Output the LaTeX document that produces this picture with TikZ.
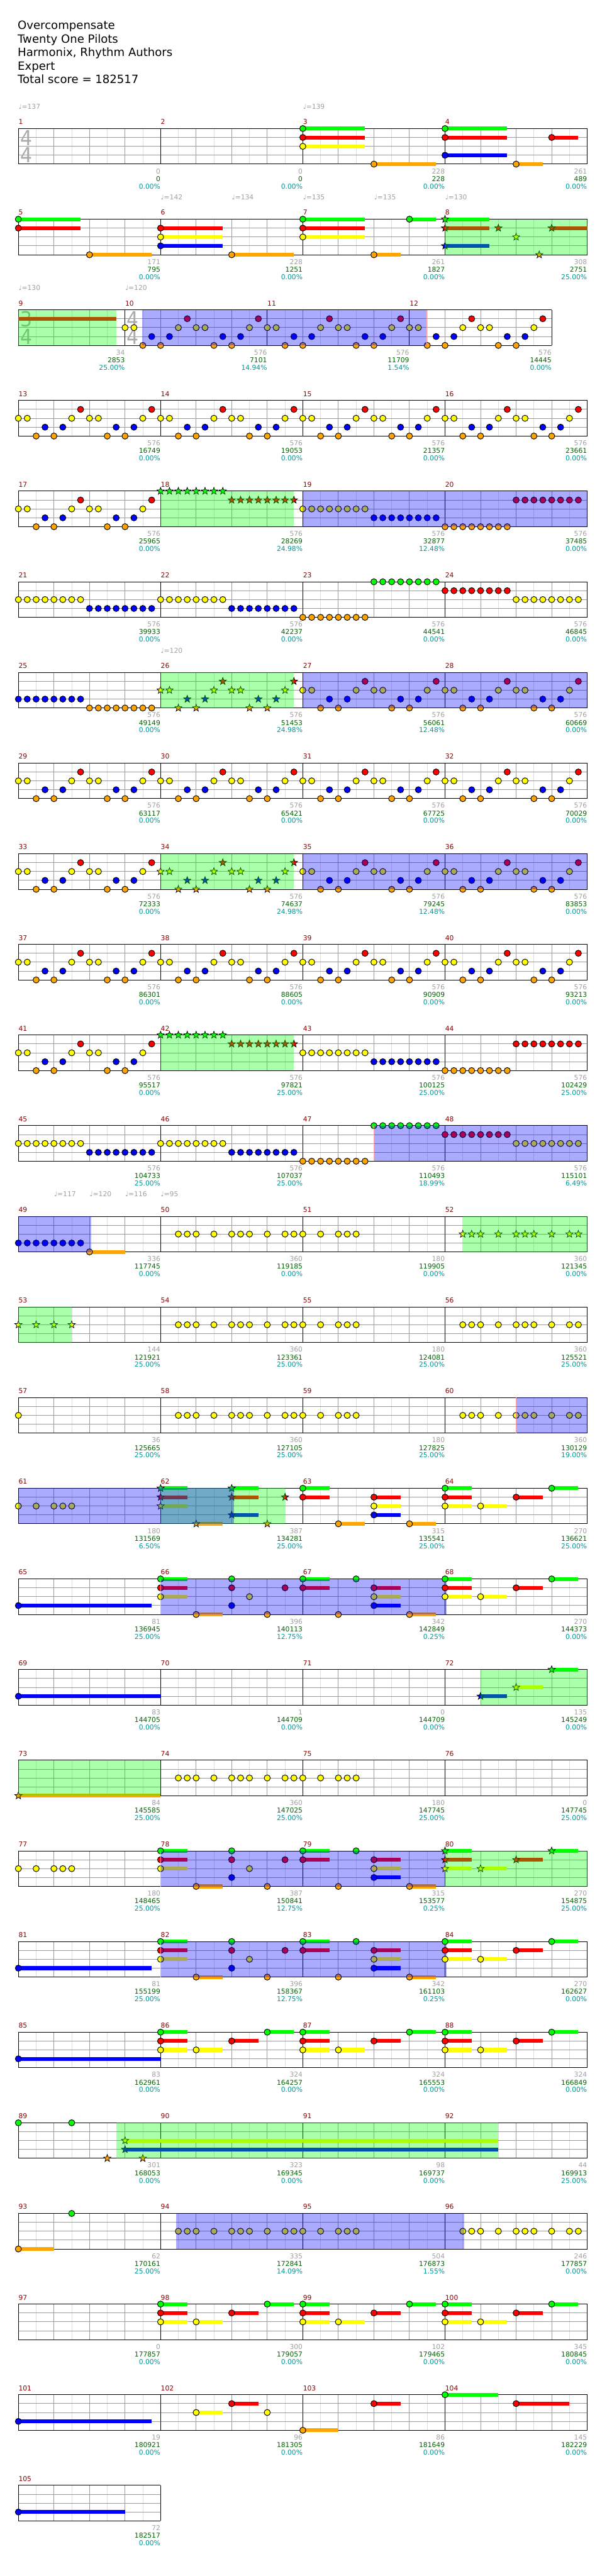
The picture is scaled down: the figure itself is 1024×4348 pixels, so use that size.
\documentclass[tikz,border=0pt]{standalone}
\usepackage{fontspec}
\setmainfont{DejaVu Sans}
\usetikzlibrary{shapes.geometric}
\definecolor{ln0}{RGB}{0,255,0}
\definecolor{ln1}{RGB}{255,0,0}
\definecolor{ln2}{RGB}{255,255,0}
\definecolor{ln3}{RGB}{0,0,255}
\definecolor{ln4}{RGB}{255,165,0}
\definecolor{gl}{RGB}{221,221,221}
\definecolor{gd}{RGB}{155,155,155}
\definecolor{mred}{RGB}{139,0,0}
\definecolor{lgray}{RGB}{160,160,160}
\definecolor{sgreen}{RGB}{0,100,0}
\definecolor{pcyan}{RGB}{0,150,150}
\definecolor{tsg}{RGB}{170,170,170}
\definecolor{pinkl}{RGB}{255,170,170}
\newcommand\smallf{\fontsize{5.7}{6.8}\selectfont}
\newcommand\titlef{\fontsize{9.6}{11.4}\selectfont}
\tikzset{
 hbeat/.style={draw=gl,line width=0.5pt},
 beatl/.style={draw=gd,line width=0.5pt},
 lanel/.style={draw=gd,line width=0.5pt},
 frame/.style={draw=black,line width=0.5pt},
 mnum/.style={anchor=base west,inner sep=0pt,text=mred,font=\smallf},
 lg/.style={anchor=base east,inner sep=0pt,text=lgray,font=\smallf},
 ls/.style={anchor=base east,inner sep=0pt,text=sgreen,font=\smallf},
 lp/.style={anchor=base east,inner sep=0pt,text=pcyan,font=\smallf},
 tmp/.style={anchor=base west,inner sep=0pt,text=lgray,font=\smallf},
 tsd/.style={inner sep=0pt,text=tsg,font=\fontsize{17.6}{18}\selectfont},
 notest/.style={draw=black,line width=0.5pt},
 starst/.style={star,star points=5,star point ratio=2.4,minimum size=6.4pt,inner sep=0pt,draw=black,line width=0.4pt},
 sust/.style={line width=3.2pt},
 ovgreen/.style={fill=ln0,fill opacity=0.333},
 ovblue/.style={fill=ln3,fill opacity=0.333},
 ttl/.style={anchor=base west,inner sep=0pt,font=\titlef}
}
\newcommand\meas[4]{%
 \pgfmathsetmacro\xe{#1+60*#3}%
 \foreach \k in {1,...,#3} {\draw[hbeat] ({#1+60*\k-30},#2) -- ++(0,60);}%
 \ifnum#3>1 \foreach \k in {2,...,#3} {\draw[beatl] ({#1+60*\k-60},#2) -- ++(0,60);}\fi
 \foreach \k in {15,30,45} {\draw[lanel] (#1,{#2+\k}) -- (\xe,{#2+\k});}%
 \draw[frame] (#1,#2) -- (\xe,#2) (#1,{#2+60}) -- (\xe,{#2+60}) (#1,#2) -- ++(0,60) (\xe,#2) -- ++(0,60);%
 \node[mnum] at (#1,{#2-7}) {#4};}
\newcommand\rowfour[2]{\meas{31}{#1}{4}{#2}\meas{271}{#1}{4}{\the\numexpr#2+1\relax}\meas{511}{#1}{4}{\the\numexpr#2+2\relax}\meas{751}{#1}{4}{\the\numexpr#2+3\relax}}
\newcommand\lab[5]{\node[lg] at (#1,{#2+76}) {#3};\node[ls] at (#1,{#2+89}) {#4};\node[lp] at (#1,{#2+101.5}) {#5};}
\newcommand\tempo[3]{\node[tmp] at (#1,{#2-33}) {♩=#3};}
\newcommand\tsig[4]{\node[tsd] at ({#1+13.5},{#2+16}) {\scalebox{0.9}[1]{#3}};\node[tsd] at ({#1+13.5},{#2+45}) {\scalebox{0.9}[1]{#4}};}
\newcommand\mknt[4]{\filldraw[notest,fill=ln#4] ({#1+15*(#2)},{#3+15*(#4)}) circle[radius=2.6pt];}
\newcommand\mkst[4]{\node[starst,fill=ln#4] at ({#1+15*(#2)},{#3+15*(#4)}) {};}
\newcommand\mksus[5]{\draw[sust,draw=ln#4] ({#1+15*(#2)},{#3+15*(#4)}) -- ++(#5,0);}
\newcommand\mksn[5]{\mksus{#1}{#2}{#3}{#4}{#5}\mknt{#1}{#2}{#3}{#4}}
\newcommand\mkss[5]{\mksus{#1}{#2}{#3}{#4}{#5}\mkst{#1}{#2}{#3}{#4}}
\newcommand\mknl[4]{\foreach \t in {#4} {\mknt{#1}{\t}{#2}{#3}}}
\newcommand\mksl[4]{\foreach \t in {#4} {\mkst{#1}{\t}{#2}{#3}}}
\newcommand\patA[2]{\foreach \l [count=\i from 0] in {2,2,4,3,4,3,2,1,2,2,4,3,4,3,2,1} {\mknt{#1}{\i}{#2}{\l}}}
\newcommand\patAs[2]{\foreach \l [count=\i from 0] in {2,2,4,3,4,3,2,1,2,2,4,3,4,3,2,1} {\mkst{#1}{\i}{#2}{\l}}}
\newcommand\halves[4]{\mknl{#1}{#2}{#3}{0,...,7}\mknl{#1}{#2}{#4}{8,...,15}}
\newcommand\ovg[3]{\fill[ovgreen] (#1,#3) rectangle (#2,{#3+60});}
\newcommand\ovb[3]{\fill[ovblue] (#1,#3) rectangle (#2,{#3+60});}
\newcommand\pinkline[2]{\draw[pinkl,line width=0.8pt] (#1,#2) -- (#1,{#2+60});}
\newcommand\chordB[2]{% G R Y at 0, Y at 4, R at 8, G at 12
 \mksn{#1}{0}{#2}{0}{45}\mksn{#1}{0}{#2}{1}{45}\mksn{#1}{0}{#2}{2}{45}\mksn{#1}{4}{#2}{2}{45}\mksn{#1}{8}{#2}{1}{45}\mksn{#1}{12}{#2}{0}{45}}
\newcommand\chordBs[2]{%
 \mkss{#1}{0}{#2}{0}{45}\mkss{#1}{0}{#2}{1}{45}\mkss{#1}{0}{#2}{2}{45}\mkss{#1}{4}{#2}{2}{45}\mkss{#1}{8}{#2}{1}{45}\mkss{#1}{12}{#2}{0}{45}}
\newcommand\chordA[2]{%
 \mksn{#1}{0}{#2}{0}{45}\mksn{#1}{0}{#2}{1}{45}\mksn{#1}{0}{#2}{2}{45}\mksn{#1}{4}{#2}{4}{45}
 \mknt{#1}{8}{#2}{0}\mknt{#1}{8}{#2}{1}\mknt{#1}{8}{#2}{3}\mknt{#1}{10}{#2}{2}\mknt{#1}{12}{#2}{4}\mknt{#1}{14}{#2}{1}}
\newcommand\chordC[2]{%
 \mksn{#1}{0}{#2}{0}{45}\mksn{#1}{0}{#2}{1}{45}\mknt{#1}{4}{#2}{4}\mknt{#1}{6}{#2}{0}
 \mksn{#1}{8}{#2}{1}{45}\mksn{#1}{8}{#2}{2}{45}\mksn{#1}{8}{#2}{3}{45}\mksn{#1}{12}{#2}{4}{45}}
\newcommand\yA[2]{\mknl{#1}{#2}{2}{2,3,4,6,8,9,10,12,14,15}}
\newcommand\yB[2]{\mknl{#1}{#2}{2}{0,2,4,5,6}}
\begin{document}
\begin{tikzpicture}[x=0.5pt,y=-0.5pt]
\fill[white] (0,0) rectangle (1024,4348);
\useasboundingbox (0,0) rectangle (1024,4348);
% header
\node[ttl] at (29.5,49.3) {Overcompensate};
\node[ttl] at (29.5,72.2) {Twenty One Pilots};
\node[ttl] at (29.5,95) {Harmonix, Rhythm Authors};
\node[ttl] at (29.5,117.9) {Expert};
\node[ttl] at (29.5,140.7) {Total score = 182517};
% ---------- grids ----------
\foreach \r in {0,1,3,4,...,25} {\pgfmathtruncatemacro\yy{217+153*\r}\pgfmathtruncatemacro\nn{4*\r+1}\rowfour{\yy}{\nn}}
\meas{31}{523}{3}{9}\meas{211}{523}{4}{10}\meas{451}{523}{4}{11}\meas{691}{523}{4}{12}
\meas{31}{4195}{4}{105}
\tsig{31}{217}{4}{4}
\tsig{31}{523}{3}{4}\tsig{211}{523}{4}{4}
% ---------- row 1 ----------
\tempo{31}{217}{137}\tempo{511}{217}{139}
\mksn{511}{0}{217}{0}{105}\mksn{511}{0}{217}{1}{105}\mksn{511}{0}{217}{2}{105}\mksn{511}{8}{217}{4}{105}
\mksn{751}{0}{217}{0}{105}\mksn{751}{0}{217}{1}{105}\mksn{751}{0}{217}{3}{105}\mksn{751}{8}{217}{4}{45}\mksn{751}{12}{217}{1}{45}
\lab{271}{217}{0}{0}{0.00\%}\lab{511}{217}{0}{0}{0.00\%}\lab{751}{217}{228}{228}{0.00\%}\lab{991}{217}{261}{489}{0.00\%}
% ---------- row 2 ----------
\tempo{271}{370}{142}\tempo{391}{370}{134}\tempo{511}{370}{135}\tempo{631}{370}{135}\tempo{751}{370}{130}
\mksn{31}{0}{370}{0}{105}\mksn{31}{0}{370}{1}{105}\mksn{31}{8}{370}{4}{105}
\mksn{271}{0}{370}{1}{105}\mksn{271}{0}{370}{2}{105}\mksn{271}{0}{370}{3}{105}\mksn{271}{8}{370}{4}{105}
\mksn{511}{0}{370}{0}{105}\mksn{511}{0}{370}{1}{105}\mksn{511}{0}{370}{2}{105}\mksn{511}{8}{370}{4}{45}\mksn{511}{12}{370}{0}{45}
\mkss{751}{0}{370}{0}{75}\mkss{751}{0}{370}{1}{75}\mkss{751}{0}{370}{3}{75}\mkst{751}{6}{370}{1}\mkst{751}{8}{370}{2}\mkst{751}{10.6}{370}{4}\mkss{751}{12}{370}{1}{60}
\ovg{751}{991}{370}
\lab{271}{370}{171}{795}{0.00\%}\lab{511}{370}{228}{1251}{0.00\%}\lab{751}{370}{261}{1827}{0.00\%}\lab{991}{370}{308}{2751}{25.00\%}
% ---------- row 3 ----------
\tempo{31}{523}{130}\tempo{211}{523}{120}
\mksus{31}{0}{523}{1}{165}
\ovg{31}{196}{523}
\patA{211}{523}\patA{451}{523}\patA{691}{523}
\ovb{240}{720}{523}\pinkline{720}{523}
\lab{211}{523}{34}{2853}{25.00\%}\lab{451}{523}{576}{7101}{14.94\%}\lab{691}{523}{576}{11709}{1.54\%}\lab{931}{523}{576}{14445}{0.00\%}
% ---------- row 4 ----------
\patA{31}{676}\patA{271}{676}\patA{511}{676}\patA{751}{676}
\lab{271}{676}{576}{16749}{0.00\%}\lab{511}{676}{576}{19053}{0.00\%}\lab{751}{676}{576}{21357}{0.00\%}\lab{991}{676}{576}{23661}{0.00\%}
% ---------- row 5 ----------
\patA{31}{829}
\mksl{271}{829}{0}{0,...,7}\mksl{271}{829}{1}{8,...,15}
\ovg{271}{496}{829}
\halves{511}{829}{2}{3}\halves{751}{829}{4}{1}
\ovb{511}{991}{829}
\lab{271}{829}{576}{25965}{0.00\%}\lab{511}{829}{576}{28269}{24.98\%}\lab{751}{829}{576}{32877}{12.48\%}\lab{991}{829}{576}{37485}{0.00\%}
% ---------- row 6 ----------
\halves{31}{982}{2}{3}\halves{271}{982}{2}{3}\halves{511}{982}{4}{0}\halves{751}{982}{1}{2}
\lab{271}{982}{576}{39933}{0.00\%}\lab{511}{982}{576}{42237}{0.00\%}\lab{751}{982}{576}{44541}{0.00\%}\lab{991}{982}{576}{46845}{0.00\%}
% ---------- row 7 ----------
\tempo{271}{1135}{120}
\halves{31}{1135}{3}{4}
\patAs{271}{1135}\ovg{271}{496}{1135}
\patA{511}{1135}\patA{751}{1135}\ovb{511}{991}{1135}
\lab{271}{1135}{576}{49149}{0.00\%}\lab{511}{1135}{576}{51453}{24.98\%}\lab{751}{1135}{576}{56061}{12.48\%}\lab{991}{1135}{576}{60669}{0.00\%}
% ---------- row 8 ----------
\patA{31}{1288}\patA{271}{1288}\patA{511}{1288}\patA{751}{1288}
\lab{271}{1288}{576}{63117}{0.00\%}\lab{511}{1288}{576}{65421}{0.00\%}\lab{751}{1288}{576}{67725}{0.00\%}\lab{991}{1288}{576}{70029}{0.00\%}
% ---------- row 9 ----------
\patA{31}{1441}
\patAs{271}{1441}\ovg{271}{496}{1441}
\patA{511}{1441}\patA{751}{1441}\ovb{511}{991}{1441}
\lab{271}{1441}{576}{72333}{0.00\%}\lab{511}{1441}{576}{74637}{24.98\%}\lab{751}{1441}{576}{79245}{12.48\%}\lab{991}{1441}{576}{83853}{0.00\%}
% ---------- row 10 ----------
\patA{31}{1594}\patA{271}{1594}\patA{511}{1594}\patA{751}{1594}
\lab{271}{1594}{576}{86301}{0.00\%}\lab{511}{1594}{576}{88605}{0.00\%}\lab{751}{1594}{576}{90909}{0.00\%}\lab{991}{1594}{576}{93213}{0.00\%}
% ---------- row 11 ----------
\patA{31}{1747}
\mksl{271}{1747}{0}{0,...,7}\mksl{271}{1747}{1}{8,...,15}\ovg{271}{496}{1747}
\halves{511}{1747}{2}{3}\halves{751}{1747}{4}{1}
\lab{271}{1747}{576}{95517}{0.00\%}\lab{511}{1747}{576}{97821}{25.00\%}\lab{751}{1747}{576}{100125}{25.00\%}\lab{991}{1747}{576}{102429}{25.00\%}
% ---------- row 12 ----------
\halves{31}{1900}{2}{3}\halves{271}{1900}{2}{3}\halves{511}{1900}{4}{0}\halves{751}{1900}{1}{2}
\ovb{631}{991}{1900}\pinkline{631}{1900}
\lab{271}{1900}{576}{104733}{25.00\%}\lab{511}{1900}{576}{107037}{25.00\%}\lab{751}{1900}{576}{110493}{18.99\%}\lab{991}{1900}{576}{115101}{6.49\%}
% ---------- row 13 ----------
\tempo{91}{2053}{117}\tempo{151}{2053}{120}\tempo{211}{2053}{116}\tempo{271}{2053}{95}
\mknl{31}{2053}{3}{0,...,7}\mksn{31}{8}{2053}{4}{60}
\ovb{31}{154}{2053}
\yA{271}{2053}\yB{511}{2053}
\mksl{751}{2053}{2}{2,3,4,6,8,9,10,12,14,15}\ovg{781}{991}{2053}
\lab{271}{2053}{336}{117745}{0.00\%}\lab{511}{2053}{360}{119185}{0.00\%}\lab{751}{2053}{180}{119905}{0.00\%}\lab{991}{2053}{360}{121345}{0.00\%}
% ---------- row 14 ----------
\mksl{31}{2206}{2}{0,2,4,6}\ovg{31}{121}{2206}
\yA{271}{2206}\yB{511}{2206}\yA{751}{2206}
\lab{271}{2206}{144}{121921}{25.00\%}\lab{511}{2206}{360}{123361}{25.00\%}\lab{751}{2206}{180}{124081}{25.00\%}\lab{991}{2206}{360}{125521}{25.00\%}
% ---------- row 15 ----------
\mknt{31}{0}{2359}{2}
\yA{271}{2359}\yB{511}{2359}\yA{751}{2359}
\ovb{872}{991}{2359}\pinkline{871}{2359}
\lab{271}{2359}{36}{125665}{25.00\%}\lab{511}{2359}{360}{127105}{25.00\%}\lab{751}{2359}{180}{127825}{25.00\%}\lab{991}{2359}{360}{130129}{19.00\%}
% ---------- row 16 ----------
\yB{31}{2512}
\mkss{271}{0}{2512}{0}{45}\mkss{271}{0}{2512}{1}{45}\mkss{271}{0}{2512}{2}{45}\mkss{271}{4}{2512}{4}{45}
\mkss{271}{8}{2512}{0}{45}\mkss{271}{8}{2512}{1}{45}\mkss{271}{8}{2512}{3}{45}\mkst{271}{12}{2512}{4}\mkst{271}{14}{2512}{1}
\ovg{271}{481}{2512}\ovb{31}{395}{2512}
\mksn{511}{0}{2512}{0}{45}\mksn{511}{0}{2512}{1}{45}\mksn{511}{4}{2512}{4}{45}\mksn{511}{8}{2512}{1}{45}\mksn{511}{8}{2512}{2}{45}\mksn{511}{8}{2512}{3}{45}\mksn{511}{12}{2512}{4}{45}
\chordB{751}{2512}
\lab{271}{2512}{180}{131569}{6.50\%}\lab{511}{2512}{387}{134281}{25.00\%}\lab{751}{2512}{315}{135541}{25.00\%}\lab{991}{2512}{270}{136621}{25.00\%}
% ---------- row 17 ----------
\mksn{31}{0}{2665}{3}{225}
\chordA{271}{2665}\chordC{511}{2665}
\ovb{271}{754}{2665}\pinkline{271}{2665}
\chordB{751}{2665}
\lab{271}{2665}{81}{136945}{25.00\%}\lab{511}{2665}{396}{140113}{12.75\%}\lab{751}{2665}{342}{142849}{0.25\%}\lab{991}{2665}{270}{144373}{0.00\%}
% ---------- row 18 ----------
\mksn{31}{0}{2818}{3}{240}
\mkss{751}{4}{2818}{3}{45}\mkss{751}{8}{2818}{2}{45}\mkss{751}{12}{2818}{0}{45}\ovg{811}{991}{2818}
\lab{271}{2818}{83}{144705}{0.00\%}\lab{511}{2818}{1}{144709}{0.00\%}\lab{751}{2818}{0}{144709}{0.00\%}\lab{991}{2818}{135}{145249}{0.00\%}
% ---------- row 19 ----------
\mkss{31}{0}{2971}{4}{240}\ovg{31}{271}{2971}
\yA{271}{2971}\yB{511}{2971}
\lab{271}{2971}{84}{145585}{25.00\%}\lab{511}{2971}{360}{147025}{25.00\%}\lab{751}{2971}{180}{147745}{25.00\%}\lab{991}{2971}{0}{147745}{25.00\%}
% ---------- row 20 ----------
\yB{31}{3124}
\chordA{271}{3124}\chordC{511}{3124}
\ovb{271}{751}{3124}\pinkline{271}{3124}
\chordBs{751}{3124}\ovg{751}{991}{3124}
\lab{271}{3124}{180}{148465}{25.00\%}\lab{511}{3124}{387}{150841}{12.75\%}\lab{751}{3124}{315}{153577}{0.25\%}\lab{991}{3124}{270}{154875}{25.00\%}
% ---------- row 21 ----------
\mksn{31}{0}{3277}{3}{225}
\chordA{271}{3277}\chordC{511}{3277}
\ovb{271}{754}{3277}\pinkline{271}{3277}
\chordB{751}{3277}
\lab{271}{3277}{81}{155199}{25.00\%}\lab{511}{3277}{396}{158367}{12.75\%}\lab{751}{3277}{342}{161103}{0.25\%}\lab{991}{3277}{270}{162627}{0.00\%}
% ---------- row 22 ----------
\mksn{31}{0}{3430}{3}{240}
\chordB{271}{3430}\chordB{511}{3430}\chordB{751}{3430}
\lab{271}{3430}{83}{162961}{0.00\%}\lab{511}{3430}{324}{164257}{0.00\%}\lab{751}{3430}{324}{165553}{0.00\%}\lab{991}{3430}{324}{166849}{0.00\%}
% ---------- row 23 ----------
\mknt{31}{0}{3583}{0}\mknt{31}{6}{3583}{0}
\mkst{31}{10}{3583}{4}\mkss{31}{12}{3583}{2}{630}\mkss{31}{12}{3583}{3}{630}\mkst{31}{14}{3583}{4}
\ovg{196}{841}{3583}
\lab{271}{3583}{301}{168053}{0.00\%}\lab{511}{3583}{323}{169345}{0.00\%}\lab{751}{3583}{98}{169737}{0.00\%}\lab{991}{3583}{44}{169913}{25.00\%}
% ---------- row 24 ----------
\mksn{31}{0}{3736}{4}{60}\mknt{31}{6}{3736}{0}
\yA{271}{3736}\yB{511}{3736}\yA{751}{3736}
\ovb{297}{783}{3736}
\lab{271}{3736}{62}{170161}{25.00\%}\lab{511}{3736}{335}{172841}{14.09\%}\lab{751}{3736}{504}{176873}{1.55\%}\lab{991}{3736}{246}{177857}{0.00\%}
% ---------- row 25 ----------
\chordB{271}{3889}\chordB{511}{3889}\chordB{751}{3889}
\lab{271}{3889}{0}{177857}{0.00\%}\lab{511}{3889}{300}{179057}{0.00\%}\lab{751}{3889}{102}{179465}{0.00\%}\lab{991}{3889}{345}{180845}{0.00\%}
% ---------- row 26 ----------
\mksn{31}{0}{4042}{3}{225}
\mksn{271}{4}{4042}{2}{45}\mksn{271}{8}{4042}{1}{45}\mknt{271}{12}{4042}{2}
\mksn{511}{0}{4042}{4}{60}\mksn{511}{8}{4042}{1}{45}
\mksn{751}{0}{4042}{0}{90}\mksn{751}{8}{4042}{1}{90}
\lab{271}{4042}{19}{180921}{0.00\%}\lab{511}{4042}{96}{181305}{0.00\%}\lab{751}{4042}{86}{181649}{0.00\%}\lab{991}{4042}{145}{182229}{0.00\%}
% ---------- row 27 ----------
\mksn{31}{0}{4195}{3}{180}
\lab{271}{4195}{72}{182517}{0.00\%}
\end{tikzpicture}
\end{document}
